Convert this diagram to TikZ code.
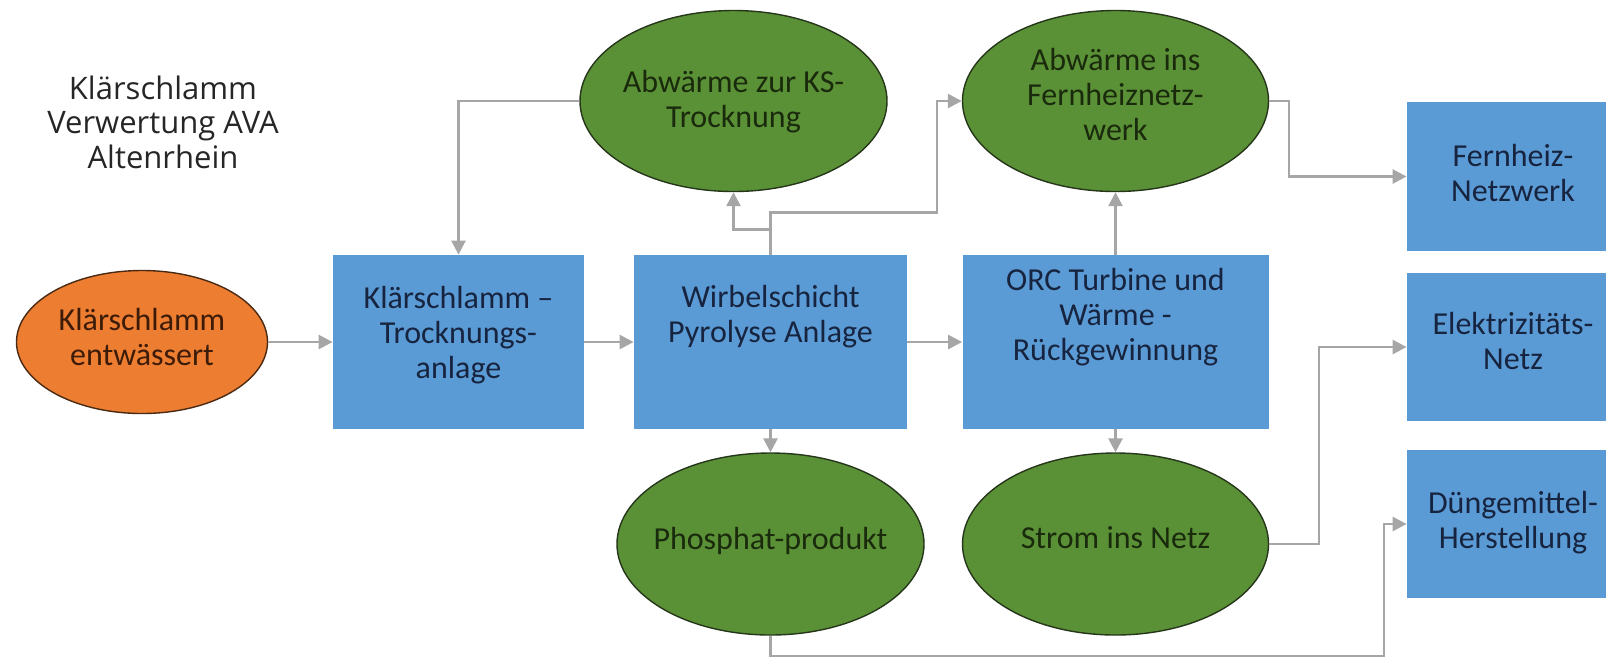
\documentclass[tikz,border=0pt]{standalone}
\usepackage{fontspec}
\setmainfont{Carlito}
\newfontfamily\headfont{Open Sans}
\usetikzlibrary{shapes.geometric,arrows.meta}

\definecolor{boxblue}{HTML}{5B9BD5}
\definecolor{leaf}{HTML}{5B9136}
\definecolor{leafline}{HTML}{25361A}
\definecolor{leaftext}{HTML}{1A2A0C}
\definecolor{sludge}{HTML}{ED7D31}
\definecolor{sludgeline}{HTML}{4A2A12}
\definecolor{sludgetext}{HTML}{3C1C08}
\definecolor{boxtext}{HTML}{17243F}
\definecolor{flowgray}{HTML}{A6A6A6}
\definecolor{headtext}{HTML}{262626}

% centred lines of text that take no width of their own
\newcommand{\stack}[1]{\makebox[0pt]{\begin{tabular}{@{}c@{}}#1\end{tabular}}}

\tikzset{
  txt/.style={inner sep=0pt, font=\fontsize{16pt}{17.5pt}\selectfont},
  stage/.style={rectangle, fill=boxblue, draw=none, inner sep=0pt},
  stagetxt/.style={txt, text=boxtext},
  product/.style={ellipse, fill=leaf, draw=leafline, line width=0.7pt, inner sep=0pt},
  producttxt/.style={txt, text=leaftext},
  source/.style={ellipse, fill=sludge, draw=sludgeline, line width=0.7pt, inner sep=0pt},
  sourcetxt/.style={txt, text=sludgetext},
  flow/.style={draw=flowgray, line width=1.3pt, -{Triangle[length=7pt,width=7pt]}},
  heading/.style={inner sep=0pt, text=headtext, font=\headfont\fontsize{15.5pt}{17.25pt}\selectfont},
}

\begin{document}
\begin{tikzpicture}[x=0.5pt,y=-0.5pt]
\clip (0,0) rectangle (1606,661);

% heading
\node[heading] (head) at (163,127) {\begin{tabular}{@{}c@{}}Klärschlamm\\Verwertung AVA\\Altenrhein\end{tabular}};

% input
\node[source, minimum width=125.5pt, minimum height=71.5pt,
      label={[sourcetxt, yshift=0.5pt]center:\stack{Klärschlamm\\entwässert}}] (ks) at (142,342) {};

% process stages
\node[stage, minimum width=125.5pt, minimum height=87pt,
      label={[stagetxt, yshift=3pt]center:\stack{Klärschlamm --\\Trocknungs-\\anlage}}] (tr) at (458.5,342) {};
\node[stage, minimum width=136.5pt, minimum height=87pt,
      label={[stagetxt, yshift=12pt]center:\stack{Wirbelschicht\\Pyrolyse Anlage}}] (py) at (770.5,342) {};
\node[stage, minimum width=153pt, minimum height=87pt,
      label={[stagetxt, yshift=12pt]center:\stack{ORC Turbine und\\Wärme -\\Rückgewinnung}}] (orc) at (1115.5,342) {};

% products
\node[product, minimum width=153.5pt, minimum height=90.5pt,
      label={[producttxt, yshift=-1pt]center:\stack{Abwärme zur KS-\\Trocknung}}] (hk) at (733.5,101) {};
\node[product, minimum width=153pt, minimum height=90.5pt,
      label={[producttxt, yshift=1.5pt]center:\stack{Abwärme ins\\Fernheiznetz-\\werk}}] (fh) at (1115.5,101) {};
\node[product, minimum width=153.5pt, minimum height=91pt,
      label={[producttxt, yshift=1pt]center:\stack{Phosphat-produkt}}] (ph) at (770.5,544) {};
\node[product, minimum width=153pt, minimum height=91pt,
      label={[producttxt, yshift=1.5pt]center:\stack{Strom ins Netz}}] (st) at (1115.5,544) {};

% consumers
\node[stage, minimum width=106pt, minimum height=74.5pt,
      label={[stagetxt, yshift=0pt]center:\stack{Fernheiz-\\Netzwerk}}] (fhn) at (1513,176.5) {};
\node[stage, minimum width=106pt, minimum height=74pt,
      label={[stagetxt, yshift=1pt]center:\stack{Elektrizitäts-\\Netz}}] (el) at (1513,347) {};
\node[stage, minimum width=106pt, minimum height=74pt,
      label={[stagetxt, yshift=0pt]center:\stack{Düngemittel-\\Herstellung}}] (dm) at (1513,524) {};

% bends of the routed connectors
\coordinate (k1) at (937,101);
\coordinate (k2) at (1289,101);
\coordinate (k3) at (1319,544);
\coordinate (k4) at (1384,656);

% main line
\draw[flow] (ks) -- (tr);
\draw[flow] (tr) -- (py);
\draw[flow] (py) -- (orc);

% heat back to drying
\draw[flow] (hk.west) -| (tr.north);
\draw[flow] (py.north) -- ++(0,-25) -| (hk.south);
\draw[flow] (py.north) -- ++(0,-42) -| (k1) -- (fh.west);
\draw[flow] (orc) -- (fh);

% outputs
\draw[flow] (py) -- (ph);
\draw[flow] (orc) -- (st);
\draw[flow] (fh.east) -- (k2) |- (fhn.west);
\draw[flow] (st.east) -- (k3) |- (el.west);
\draw[flow] (ph.south) |- (k4) |- (dm.west);
\end{tikzpicture}
\end{document}
